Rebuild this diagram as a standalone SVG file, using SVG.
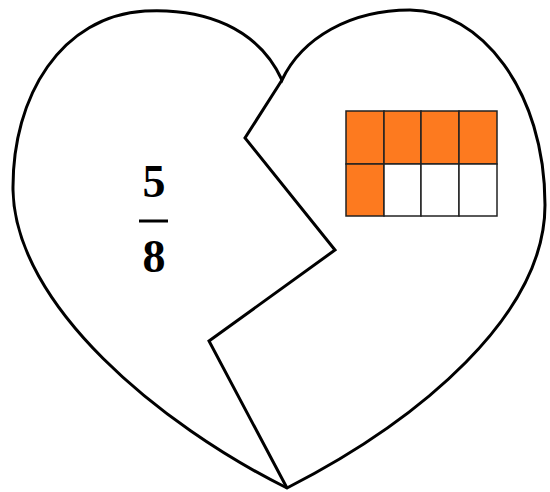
<svg xmlns="http://www.w3.org/2000/svg" width="550" height="492" viewBox="0 0 550 492">
<style>
.outline{fill:none;stroke:#000;stroke-width:3;stroke-linejoin:miter}
.cell{stroke:#222;stroke-width:1.5}
.on{fill:#fd7a1f}
.off{fill:#fff}
.num{font-family:"Liberation Serif",serif;font-weight:bold;font-size:46px;text-anchor:middle;fill:#000}
</style>
<rect width="550" height="492" fill="#fff"/>
<g id="heart">
<path class="outline" d="M 282 80 C 258 28 205 8 145 11 C 62 16 12 95 13 190 C 15 305 160 425 287 488 C 420 420 545 315 545 205 C 545 90 480 10 410 10 C 350 10 302 38 282 80 Z"/>
</g>
<g id="connectors">
<polyline class="outline" points="282,80 245,138 335,250 209,341 287,488"/>
</g>
<g id="fraction">
<text class="num" x="154" y="197">5</text>
<line x1="139" y1="221" x2="168" y2="221" stroke="#000" stroke-width="3"/>
<text class="num" x="154" y="272">8</text>
</g>
<g id="grid">
<rect class="cell on" x="346" y="111" width="38" height="53"/>
<rect class="cell on" x="384" y="111" width="37" height="53"/>
<rect class="cell on" x="421" y="111" width="38" height="53"/>
<rect class="cell on" x="459" y="111" width="38" height="53"/>
<rect class="cell on" x="346" y="164" width="38" height="52"/>
<rect class="cell off" x="384" y="164" width="37" height="52"/>
<rect class="cell off" x="421" y="164" width="38" height="52"/>
<rect class="cell off" x="459" y="164" width="38" height="52"/>
</g>
</svg>
